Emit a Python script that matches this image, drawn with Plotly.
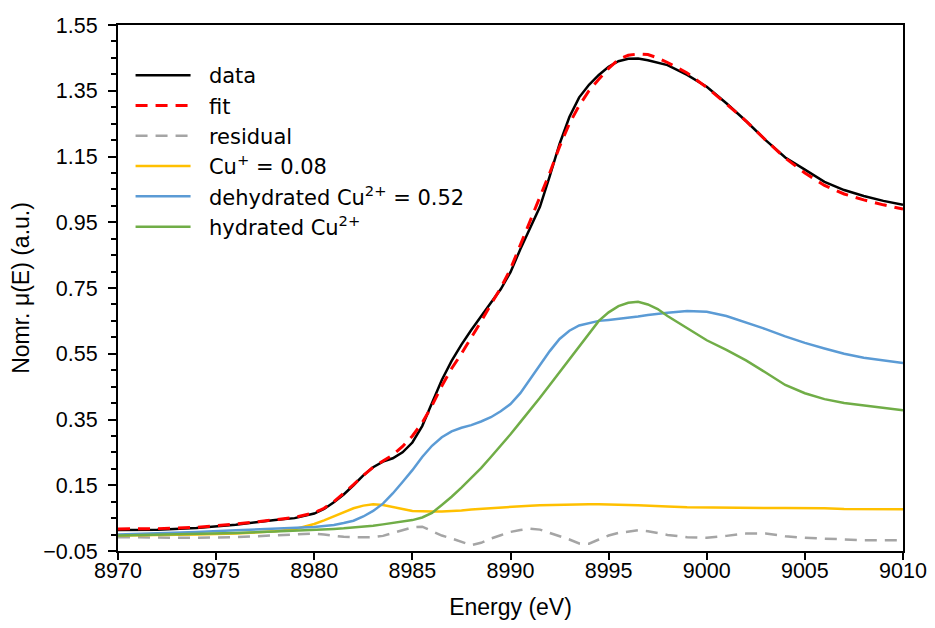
import plotly.graph_objects as go

energy = [8970, 8972, 8974, 8976, 8978, 8979, 8980, 8980.5, 8981, 8981.5, 8982, 8982.5,
          8983, 8983.5, 8984, 8984.5, 8985, 8985.5, 8986, 8986.5, 8987, 8987.5, 8988,
          8988.5, 8989, 8989.5, 8990, 8990.5, 8991, 8991.5, 8992, 8992.5, 8993, 8993.5,
          8994, 8994.5, 8995, 8995.5, 8996, 8996.5, 8997, 8997.5, 8998, 8999, 9000,
          9001, 9002, 9003, 9004, 9005, 9006, 9007, 9008, 9009, 9010]

data = [0.014, 0.015, 0.020, 0.030, 0.044, 0.050, 0.064, 0.078, 0.098, 0.122, 0.150, 0.180,
        0.205, 0.222, 0.232, 0.250, 0.280, 0.330, 0.400, 0.470, 0.528, 0.578, 0.622,
        0.665, 0.705, 0.746, 0.798, 0.868, 0.935, 0.997, 1.090, 1.188, 1.270, 1.330,
        1.368, 1.398, 1.423, 1.440, 1.447, 1.448, 1.443, 1.436, 1.428, 1.398, 1.362,
        1.312, 1.258, 1.200, 1.147, 1.110, 1.073, 1.048, 1.030, 1.015, 1.003]

fit = [0.017, 0.018, 0.022, 0.032, 0.045, 0.052, 0.066, 0.080, 0.100, 0.125, 0.152, 0.180,
       0.205, 0.224, 0.242, 0.268, 0.300, 0.340, 0.392, 0.452, 0.505, 0.550, 0.598,
       0.648, 0.700, 0.750, 0.808, 0.880, 0.956, 1.030, 1.100, 1.180, 1.250, 1.305,
       1.350, 1.385, 1.418, 1.445, 1.458, 1.462, 1.460, 1.450, 1.436, 1.404, 1.360,
       1.310, 1.258, 1.200, 1.145, 1.100, 1.062, 1.036, 1.018, 1.003, 0.990]

residual = [-0.008, -0.010, -0.010, -0.008, -0.002, 0.002, 0.003, 0.000, -0.004, -0.007, -0.008, -0.009,
            -0.008, -0.004, 0.004, 0.013, 0.022, 0.024, 0.010, -0.003, -0.012, -0.022, -0.032,
            -0.025, -0.012, -0.002, 0.008, 0.014, 0.018, 0.015, 0.005, -0.003, -0.015, -0.027,
            -0.028, -0.015, -0.003, 0.005, 0.010, 0.013, 0.010, 0.004, -0.001, -0.008, -0.010,
            -0.004, 0.003, 0.003, -0.005, -0.010, -0.013, -0.015, -0.017, -0.017, -0.017]

cu1 = [-0.003, -0.002, 0.000, 0.003, 0.010, 0.016, 0.032, 0.043, 0.055, 0.068, 0.080, 0.088,
       0.092, 0.090, 0.085, 0.078, 0.072, 0.070, 0.070, 0.070, 0.071, 0.073, 0.076,
       0.078, 0.081, 0.083, 0.086, 0.087, 0.088, 0.089, 0.090, 0.090, 0.091, 0.091,
       0.092, 0.092, 0.092, 0.091, 0.090, 0.089, 0.087, 0.086, 0.085, 0.083, 0.082,
       0.081, 0.081, 0.081, 0.081, 0.081, 0.080, 0.078, 0.077, 0.077, 0.077]

cu2_dehydrated = [0.000, 0.003, 0.008, 0.013, 0.017, 0.019, 0.023, 0.026, 0.029, 0.035, 0.042, 0.055,
                  0.072, 0.094, 0.125, 0.160, 0.196, 0.236, 0.270, 0.296, 0.314, 0.325, 0.333,
                  0.344, 0.357, 0.375, 0.397, 0.430, 0.472, 0.515, 0.558, 0.595, 0.620, 0.636,
                  0.644, 0.650, 0.653, 0.656, 0.659, 0.663, 0.668, 0.672, 0.675, 0.680, 0.678,
                  0.665, 0.646, 0.625, 0.603, 0.583, 0.566, 0.550, 0.538, 0.529, 0.522]

cu2_hydrated = [-0.003, -0.001, 0.002, 0.005, 0.009, 0.011, 0.013, 0.015, 0.017, 0.019, 0.021, 0.023,
                0.027, 0.031, 0.035, 0.039, 0.044, 0.052, 0.066, 0.090, 0.115, 0.143, 0.172,
                0.202, 0.236, 0.270, 0.305, 0.342, 0.378, 0.416, 0.455, 0.494, 0.533, 0.572,
                0.612, 0.650, 0.676, 0.695, 0.705, 0.708, 0.700, 0.686, 0.665, 0.628, 0.591,
                0.562, 0.530, 0.493, 0.455, 0.430, 0.412, 0.400, 0.392, 0.384, 0.378]

series_names = ["data", "fit", "residual", "Cu<sup>+</sup> = 0.08",
                "dehydrated Cu<sup>2+</sup> = 0.52", "hydrated Cu<sup>2+</sup>"]

FONT = "Liberation Sans, Arial, sans-serif"
LEG_FONT = "DejaVu Sans, Liberation Sans, sans-serif"
TICK_FS = 21.5
TITLE_FS = 23
LEG_FS = 21
PAD = "\u00a0\u00a0"

fig = go.Figure()
fig.add_trace(go.Scatter(x=energy, y=data, name=PAD + series_names[0], mode="lines",
                         line=dict(color="#000000", width=2.5)))
fig.add_trace(go.Scatter(x=energy, y=fit, name=PAD + series_names[1], mode="lines",
                         line=dict(color="#FF0000", width=3, dash="12px,8px")))
fig.add_trace(go.Scatter(x=energy, y=residual, name=PAD + series_names[2], mode="lines",
                         line=dict(color="#A5A5A5", width=2.5, dash="12px,8px")))
fig.add_trace(go.Scatter(x=energy, y=cu1, name=PAD + series_names[3], mode="lines",
                         line=dict(color="#FFC000", width=2.5)))
fig.add_trace(go.Scatter(x=energy, y=cu2_dehydrated, name=PAD + series_names[4], mode="lines",
                         line=dict(color="#5B9BD5", width=2.5)))
fig.add_trace(go.Scatter(x=energy, y=cu2_hydrated, name=PAD + series_names[5], mode="lines",
                         line=dict(color="#70AD47", width=2.5)))

fig.update_layout(
    width=919, height=612,
    margin=dict(l=110, r=24, t=17, b=69),
    paper_bgcolor="white", plot_bgcolor="white",
    font=dict(family=FONT, size=TICK_FS, color="#000000"),
    showlegend=True,
    legend=dict(x=0.016, y=0.943, xanchor="left", yanchor="top",
                bgcolor="rgba(0,0,0,0)", font=dict(size=LEG_FS, family=LEG_FONT),
                itemwidth=55, tracegroupgap=0),
    xaxis=dict(range=[8970, 9010], dtick=5, tick0=8970, showgrid=False, zeroline=False,
               automargin=False,
               showline=True, linecolor="#000000", linewidth=2, mirror=True,
               ticks="outside", ticklen=7, tickwidth=2, tickcolor="#000000",
               ticklabelstandoff=-8,
               tickfont=dict(size=TICK_FS, family=FONT),
               title=dict(text="Energy (eV)", font=dict(size=TITLE_FS, family=FONT), standoff=20)),
    yaxis=dict(range=[-0.05, 1.55], dtick=0.2, tick0=-0.05, tickformat=".2f",
               showgrid=False, zeroline=False, automargin=False,
               showline=True, linecolor="#000000", linewidth=2, mirror=True,
               ticks="outside", ticklen=8, tickwidth=2, tickcolor="#000000",
               ticklabelstandoff=6,
               minor=dict(dtick=0.05, tick0=-0.05, ticks="outside", ticklen=5,
                          tickwidth=2, tickcolor="#000000", showgrid=False),
               tickfont=dict(size=TICK_FS, family=FONT),
               title=dict(text="Nomr. μ(E) (a.u.)", font=dict(size=TITLE_FS, family=FONT), standoff=9)),
)

fig.write_html("out.html")
